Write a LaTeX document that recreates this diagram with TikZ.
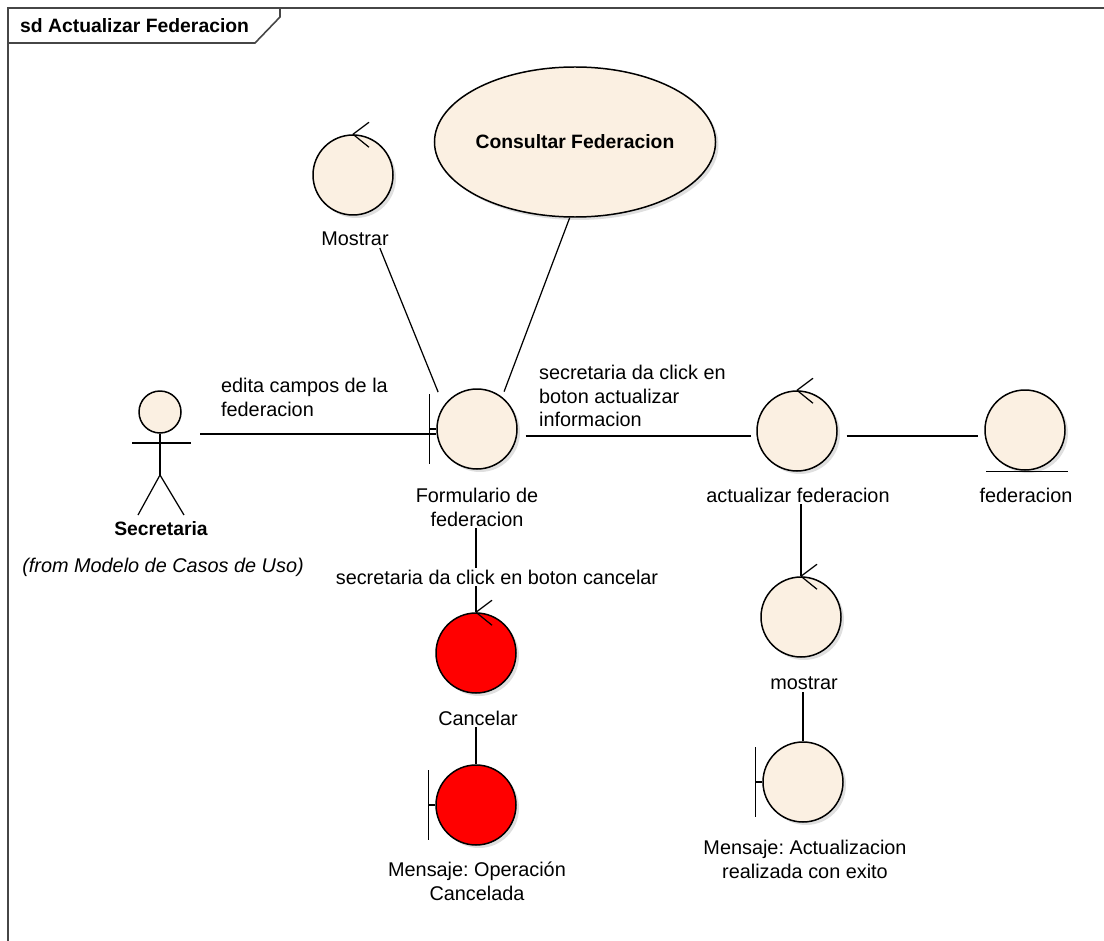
\documentclass[tikz,border=0pt]{standalone}
\usepackage{fontspec}
\setmainfont{Liberation Sans}
\usepackage{tikz}
\usetikzlibrary{shapes.geometric,shadows,calc,positioning}
\definecolor{beige}{RGB}{251,240,226}
\definecolor{framegray}{RGB}{70,70,70}
\frenchspacing

\begin{document}
\begin{tikzpicture}[x=0.2mm, y=-0.2mm,
    obj/.style={circle, draw=black, line width=0.85pt, fill=beige, minimum size=16mm, inner sep=0pt,
      drop shadow={shadow xshift=1.7pt, shadow yshift=-1.7pt, fill=black!25}},
    redobj/.style={obj, fill=red},
    usecase/.style={obj, ellipse, minimum width=44.8mm, minimum height=30mm,
      font=\bfseries\fontsize{11}{13.4}\selectfont},
    lbl/.style={font=\fontsize{11.3}{13.6}\selectfont, align=center, inner sep=1pt},
    link/.style={line width=0.7pt}]
            % Frame
            \useasboundingbox (0,0) rectangle (1104,941);
            \draw[framegray, line width=0.9pt] (8,941) -- (8,8) -- (1104,8);
            \draw[framegray, line width=0.9pt] (8,43) -- (255,43) -- (280,17) -- (280,8);
            \node[font=\bfseries\fontsize{11}{13.4}\selectfont, anchor=west] (title) at (14,26) {sd Actualizar Federacion};
            % Objects
            \node[obj] (mostrar) at (353,175) {};
            \node[lbl] (mostrarL) at (355,239) {Mostrar};
            \node[usecase] (consultar) at (575,142) {Consultar Federacion};
            \node[obj] (form) at (477,429) {};
            \node[lbl] (formL) at (477,507) {Formulario de\\federacion};
            \node[obj] (actualizar) at (797,431) {};
            \node[lbl] (actualizarL) at (798,495) {actualizar federacion};
            \node[obj] (fed) at (1025,430) {};
            \node[lbl] (fedL) at (1026,495) {federacion};
            \node[obj] (mostrarb) at (801,617) {};
            \node[lbl] (mostrarbL) at (804,683) {mostrar};
            \node[obj] (exito) at (803,782) {};
            \node[lbl] (exitoL) at (805,859) {Mensaje: Actualizacion\\realizada con exito};
            \node[redobj] (cancelar) at (476,653) {};
            \node[lbl] (cancelarL) at (478,718) {Cancelar};
            \node[redobj] (cancelado) at (476,805) {};
            \node[lbl] (canceladoL) at (477,881) {Mensaje: Operación\\Cancelada};
            % Actor
            \node[circle, draw, line width=0.85pt, fill=beige, minimum size=8.4mm, inner sep=0pt] (head) at (160,412) {};
            \draw[link] (head.south) -- (160,475) coordinate (hip);
            \draw[link] (132,443) -- (191,443);
            \draw[link] (138,515) -- (hip) -- (184,515);
            \node[minimum width=16mm, inner sep=0pt] (actor) at (160,434) {};
            \node[lbl, font=\bfseries\fontsize{11}{13.4}\selectfont] (actorL) at (161,529) {Secretaria};
            \node[lbl, font=\itshape\fontsize{11.3}{13.6}\selectfont] (actorF) at (163,567) {(from Modelo de Casos de Uso)};
            % Marks
            \foreach \c in {mostrar,actualizar,mostrarb,cancelar}
              \draw[link] (\c.north) -- ++(16,-12) (\c.north) -- ++(16,13);
            \foreach \b in {form,exito,cancelado}
              \draw[link] (\b.west) -- ++(-7,0) ++(0,-35) -- ++(0,70);
            \draw[link] (fed.south) ++(-39,1) -- ++(82,0);
            % Links
            \draw[link] (actor.east) -- (actor.east -| form.west);
            \draw[link, shorten >=8.3pt] (mostrarL.-20) -- (form.145);
            \draw[link, shorten >=3.2pt] (consultar.266) -- (form.52);
            \draw[link, shorten <=4.5pt, shorten >=3pt] ([yshift=-1.4mm]form.east) -- ([yshift=-1.4mm]form.east -| actualizar.west);
            \draw[link, shorten <=5pt, shorten >=3.5pt] ([yshift=-1mm]actualizar.east) -- ([yshift=-1mm]actualizar.east -| fed.west);
            \draw[link] (mostrarb.north) -- (mostrarb.north |- actualizarL.south);
            \draw[link] (exito.north) -- (exito.north |- mostrarbL.south);
            \draw[link] (cancelar.north) -- (cancelar.north |- formL.south);
            \draw[link] (cancelado.north) -- (cancelado.north |- cancelarL.south);
            % Link labels
            \node[lbl, align=left, anchor=west] (editaL) at (219,397) {edita campos de la\\federacion};
            \node[lbl, align=left, anchor=west] (clickL) at (537,396) {secretaria da click en\\boton actualizar\\informacion};
            \node[lbl, fill=white] (cancelClickL) at (497,577) {secretaria da click en boton cancelar};
\end{tikzpicture}
\end{document}
